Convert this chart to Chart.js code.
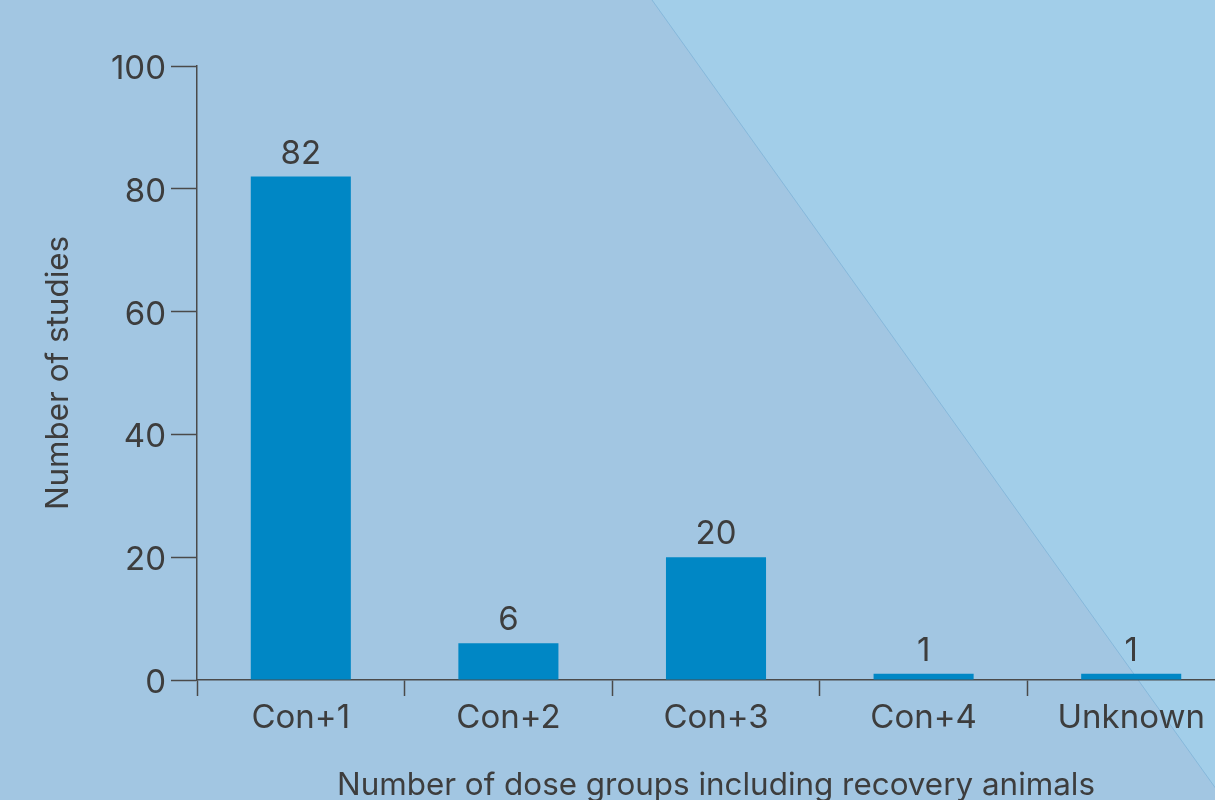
<!DOCTYPE html>
<html>
<head>
<meta charset="utf-8">
<script src="https://cdn.jsdelivr.net/npm/chart.js@4.4.1/dist/chart.umd.min.js"></script>
<style>
  html, body { margin: 0; padding: 0; overflow: hidden; background: #a2c6e2; }
  #wrap { position: absolute; left: 0; top: 0; width: 1235px; height: 812px; }
</style>
</head>
<body>
<div id="wrap"><canvas id="chart"></canvas></div>
<script>
// Studies grouped by number of dose groups that include recovery animals
const categories = ['Con+1', 'Con+2', 'Con+3', 'Con+4', 'Unknown'];
const studyCounts = [82, 6, 20, 1, 1];
const yTicks = [0, 20, 40, 60, 80, 100];

const INK = '#3d3d3d';
const AXIS = '#4a4a4a';
const FONT = 'Inter, Roboto, "Liberation Sans", sans-serif';
const TICK_SIZE = 33;
const TITLE_SIZE = 31.4;

// Two-tone backdrop split by a thin diagonal rule
const backdrop = {
  id: 'backdrop',
  beforeDraw(chart) {
    const { ctx, width, height } = chart;
    ctx.save();
    ctx.fillStyle = '#a2c6e2';
    ctx.fillRect(0, 0, width, height);
    const x0 = 652, x1 = 652 + 0.715 * height;
    ctx.beginPath();
    ctx.moveTo(x0, 0);
    ctx.lineTo(width, 0);
    ctx.lineTo(width, height);
    ctx.lineTo(x1, height);
    ctx.closePath();
    ctx.fillStyle = '#a2cee9';
    ctx.fill();
    ctx.beginPath();
    ctx.moveTo(x0, 0);
    ctx.lineTo(x1, height);
    ctx.lineWidth = 0.8;
    ctx.strokeStyle = '#7fb4d8';
    ctx.stroke();
    ctx.restore();
  }
};

// Value printed above each bar
const valueLabels = {
  id: 'valueLabels',
  afterDatasetsDraw(chart) {
    const { ctx } = chart;
    const meta = chart.getDatasetMeta(0);
    ctx.save();
    ctx.font = TICK_SIZE + 'px ' + FONT;
    ctx.fillStyle = INK;
    ctx.textAlign = 'center';
    ctx.textBaseline = 'alphabetic';
    meta.data.forEach((bar, i) => {
      ctx.fillText(String(studyCounts[i]), bar.x, bar.y - 13);
    });
    ctx.restore();
  }
};

new Chart(document.getElementById('chart'), {
  type: 'bar',
  data: {
    labels: categories,
    datasets: [{
      data: studyCounts,
      backgroundColor: '#0087c5',
      borderWidth: 0,
      categoryPercentage: 1,
      barPercentage: 0.482
    }]
  },
  options: {
    responsive: true,
    maintainAspectRatio: false,
    animation: false,
    events: [],
    layout: { padding: { top: 66, left: 0, right: 0, bottom: 0 } },
    plugins: { legend: { display: false }, tooltip: { enabled: false } },
    scales: {
      x: {
        grid: {
          display: true, drawOnChartArea: false, drawTicks: true,
          tickLength: 16, tickWidth: 1.5, color: AXIS, offset: true
        },
        border: { display: true, color: AXIS, width: 1.5 },
        ticks: { color: INK, font: { family: FONT, size: TICK_SIZE }, padding: 2 },
        title: {
          display: true,
          text: 'Number of dose groups including recovery animals',
          color: INK,
          font: { family: FONT, size: TITLE_SIZE },
          padding: { top: 0, bottom: 8 }
        },
        afterFit(scale) { scale.height = 812 - 680; }
      },
      y: {
        min: 0, max: 100,
        afterBuildTicks(scale) { scale.ticks = yTicks.map(v => ({ value: v })); },
        grid: {
          display: true, drawOnChartArea: false, drawTicks: true,
          tickLength: 26, tickWidth: 1.5, color: AXIS
        },
        border: { display: true, color: AXIS, width: 1.5 },
        ticks: { color: INK, font: { family: FONT, size: TICK_SIZE }, padding: 5, labelOffset: 3 },
        title: {
          display: true,
          text: 'Number of studies',
          color: INK,
          font: { family: FONT, size: TITLE_SIZE },
          padding: { top: 40, bottom: 0 }
        },
        afterFit(scale) { scale.width = 197; }
      }
    }
  },
  plugins: [backdrop, valueLabels]
});
</script>
</body>
</html>
